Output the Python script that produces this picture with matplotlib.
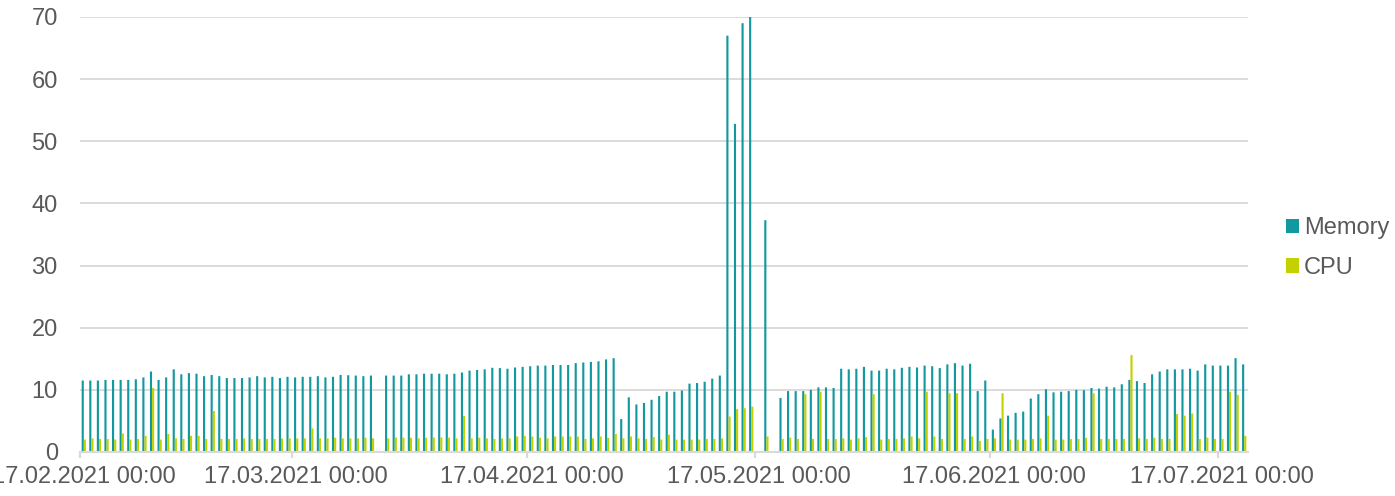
import numpy as np
import pandas as pd
import matplotlib
matplotlib.use("Agg")
import matplotlib.pyplot as plt
import matplotlib.dates as mdates
import matplotlib.transforms as mtransforms
from matplotlib.patches import Patch

plt.rcParams['font.family'] = ['Liberation Sans', 'DejaVu Sans']

start_date = "2021-02-17"
n_days = 154
dates = pd.date_range(start_date, periods=n_days, freq="D")

memory = [
    11.5, 11.5, 11.5, 11.6, 11.6, 11.6, 11.6, 11.7, 12.0, 12.95,
    11.6, 12.0, 13.3, 12.5, 12.7, 12.6, 12.2, 12.4, 12.2, 11.9,
    11.9, 11.9, 12.0, 12.2, 12.0, 12.1, 11.9, 12.1, 12.0, 12.1,
    12.1, 12.2, 12.0, 12.1, 12.4, 12.35, 12.3, 12.2, 12.3, None,
    12.3, 12.3, 12.3, 12.5, 12.5, 12.6, 12.6, 12.6, 12.5, 12.6,
    12.8, 13.1, 13.2, 13.3, 13.55, 13.5, 13.4, 13.6, 13.7, 13.8,
    13.9, 13.9, 14.0, 14.0, 14.0, 14.3, 14.4, 14.5, 14.6, 14.9,
    15.1, 5.3, 8.8, 7.65, 7.9, 8.4, 9.0, 9.7, 9.7, 9.9,
    11.0, 11.1, 11.3, 11.8, 12.3, 67.0, 52.8, 69.0, 70.0, None,
    37.3, None, 8.7, 9.8, 9.8, 9.8, 10.0, 10.4, 10.4, 10.3,
    13.4, 13.3, 13.4, 13.7, 13.1, 13.1, 13.4, 13.3, 13.55, 13.7,
    13.6, 13.9, 13.8, 13.5, 14.1, 14.3, 13.9, 14.2, 9.8, 11.5,
    3.6, 5.4, 5.85, 6.3, 6.5, 8.6, 9.3, 10.1, 9.6, 9.7,
    9.8, 10.0, 9.95, 10.3, 10.2, 10.5, 10.4, 10.9, 11.6, 11.4,
    11.1, 12.5, 12.95, 13.3, 13.3, 13.3, 13.4, 13.1, 14.1, 13.9,
    13.9, 13.9, 15.1, 14.1,
]

cpu = [
    2.0, 2.2, 2.1, 2.1, 2.0, 3.0, 2.0, 2.1, 2.6, 10.3,
    2.0, 2.9, 2.2, 2.1, 2.6, 2.6, 2.1, 6.6, 2.1, 2.1,
    2.1, 2.2, 2.1, 2.1, 2.1, 2.1, 2.2, 2.2, 2.2, 2.2,
    3.8, 2.2, 2.2, 2.3, 2.2, 2.2, 2.2, 2.3, 2.2, None,
    2.2, 2.35, 2.3, 2.3, 2.2, 2.3, 2.35, 2.35, 2.3, 2.2,
    5.8, 2.2, 2.3, 2.2, 2.1, 2.2, 2.2, 2.5, 2.6, 2.5,
    2.3, 2.2, 2.5, 2.5, 2.5, 2.5, 2.1, 2.2, 2.5, 2.3,
    2.9, 2.2, 2.5, 2.2, 2.1, 2.4, 2.0, 2.8, 2.0, 2.0,
    2.0, 2.0, 2.1, 2.1, 2.2, 5.7, 6.9, 7.05, 7.3, None,
    2.5, None, 2.1, 2.3, 2.1, 9.3, 2.1, 9.7, 2.1, 2.1,
    2.2, 2.0, 2.2, 2.4, 9.3, 2.0, 2.1, 2.1, 2.2, 2.5,
    2.2, 9.7, 2.5, 2.1, 9.45, 9.45, 2.1, 2.5, 1.8, 2.1,
    2.2, 9.45, 2.0, 2.0, 2.0, 2.1, 2.2, 5.85, 2.0, 2.0,
    2.1, 2.1, 2.3, 9.45, 2.1, 2.1, 2.1, 2.1, 15.6, 2.2,
    2.1, 2.3, 2.1, 2.1, 6.1, 5.85, 6.2, 2.1, 2.3, 2.1,
    2.1, 9.7, 9.2, 2.6,
]

series_names = ["Memory", "CPU"]
colors = ["#12989F", "#C4D100"]

mem = np.array([np.nan if v is None else v for v in memory], dtype=float)
cp = np.array([np.nan if v is None else v for v in cpu], dtype=float)

fig = plt.figure(figsize=(13.95, 4.96), dpi=100)
ax = fig.add_axes([80 / 1395, 44 / 496, 1168 / 1395, 435 / 496])

xnum = mdates.date2num(dates.to_pydatetime())
bw = 0.28
b1 = ax.bar(xnum + 0.5, mem, width=-bw, align="edge", color=colors[0], linewidth=0, zorder=3)
b2 = ax.bar(xnum + 0.5, cp, width=bw, align="edge", color=colors[1], linewidth=0, zorder=3)
for p in list(b1) + list(b2):
    p.set_snap(False)

ax.xaxis_date()
ax.set_xlim(xnum[0], xnum[0] + n_days)
ax.set_ylim(0, 70)
ax.set_yticks(np.arange(0, 71, 10))
ax.xaxis.set_major_locator(mdates.MonthLocator(bymonthday=17))
ax.xaxis.set_major_formatter(mdates.DateFormatter("%d.%m.%Y %H:%M"))

ax.grid(axis="y", color="#D9D9D9", linewidth=1.3, zorder=0)
ax.set_axisbelow(True)
for s in ["top", "right", "left"]:
    ax.spines[s].set_visible(False)
ax.spines["bottom"].set_color("#D9D9D9")
ax.spines["bottom"].set_linewidth(1.5)
ax.spines["bottom"].set_zorder(4)

ax.tick_params(axis="y", length=0, pad=16, labelsize=17, labelcolor="#595959")
ax.tick_params(axis="x", length=4, width=1.5, color="#D9D9D9", pad=6,
               labelsize=17, labelcolor="#595959", direction="out")

shift = mtransforms.ScaledTranslation(4 / 100, 0, fig.dpi_scale_trans)
for lbl in ax.get_xticklabels():
    lbl.set_transform(lbl.get_transform() + shift)

handles = [Patch(facecolor=c, edgecolor="none") for c in colors]
fig.legend(handles, series_names, loc="center left", bbox_to_anchor=(0.922, 0.5),
           frameon=False, fontsize=17, labelcolor="#595959",
           handlelength=0.55, handleheight=0.55, handletextpad=0.2,
           labelspacing=0.75, borderpad=0, borderaxespad=0)

fig.savefig("out.png", dpi=100)
